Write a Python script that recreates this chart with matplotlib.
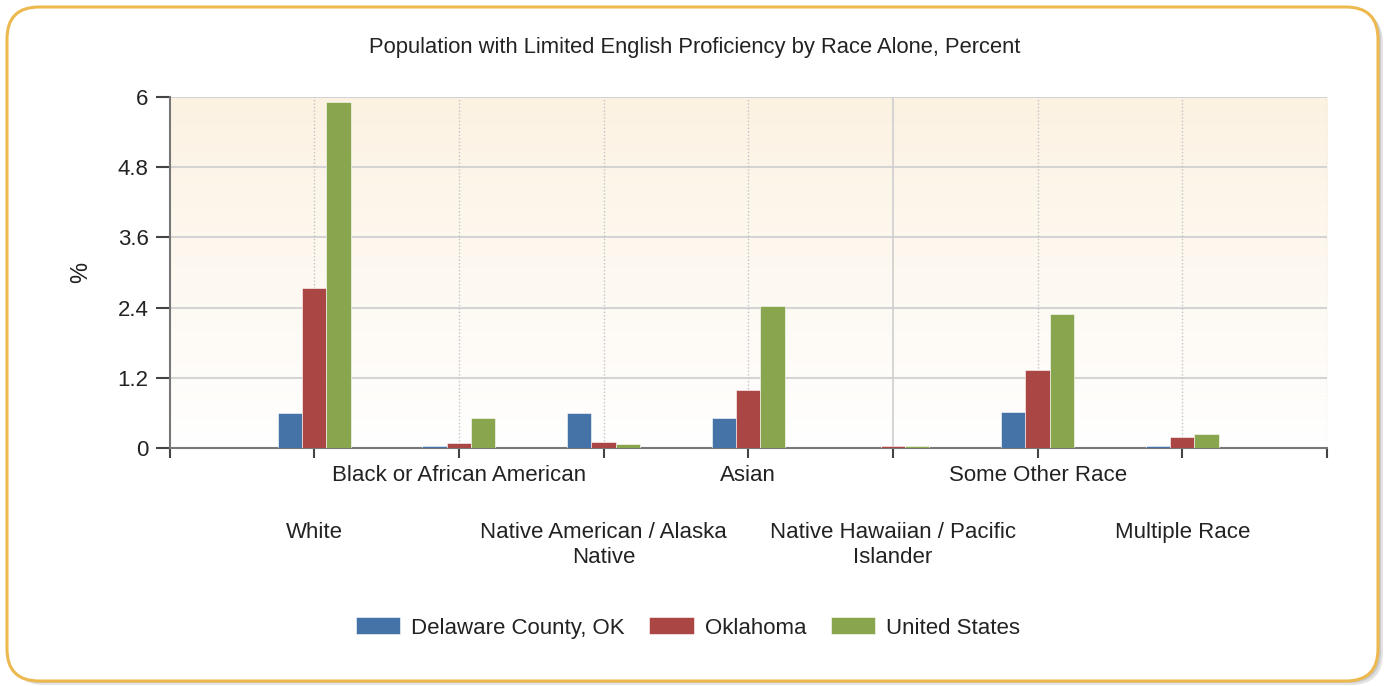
import numpy as np
import matplotlib
matplotlib.use("Agg")
import matplotlib.pyplot as plt
from matplotlib.patches import FancyBboxPatch
from matplotlib.transforms import IdentityTransform

plt.rcParams["font.family"] = ["Liberation Sans", "DejaVu Sans"]

# data
categories = [
    "White",
    "Black or African American",
    "Native American / Alaska\nNative",
    "Asian",
    "Native Hawaiian / Pacific\nIslander",
    "Some Other Race",
    "Multiple Race",
]
series_names = ["Delaware County, OK", "Oklahoma", "United States"]
delaware = [0.59, 0.03, 0.59, 0.52, 0.0, 0.62, 0.03]
oklahoma = [2.74, 0.08, 0.11, 0.99, 0.04, 1.33, 0.18]
united_states = [5.91, 0.52, 0.07, 2.43, 0.03, 2.29, 0.24]
y_ticks = [0, 1.2, 2.4, 3.6, 4.8, 6]
y_tick_labels = ["0", "1.2", "2.4", "3.6", "4.8", "6"]

colors = ["#4572A7", "#AA4643", "#89A54E"]
text_color = "#222222"

W, H = 1387, 686
fig = plt.figure(figsize=(W / 100, H / 100), dpi=100)
fig.patch.set_facecolor("white")

# rounded frame with a soft shadow
for off, col, a in [(4, "#b0b0b0", 0.35), (2, "#999999", 0.35)]:
    sh = FancyBboxPatch((8 + off, 5 - off), W - 16, H - 12,
                        boxstyle="round,pad=0,rounding_size=32",
                        transform=IdentityTransform(), facecolor=col,
                        edgecolor="none", alpha=a, zorder=0)
    fig.patches.append(sh)
frame = FancyBboxPatch((7, 5), W - 16, H - 12,
                       boxstyle="round,pad=0,rounding_size=32",
                       transform=IdentityTransform(), facecolor="white",
                       edgecolor="#EDB94F", linewidth=2.2, zorder=1)
fig.patches.append(frame)

ax = fig.add_axes([169.5 / W, 1 - 448 / H, (1327 - 169.5) / W, (448 - 97) / H])
ax.set_facecolor("none")
ax.set_zorder(2)

x = np.arange(1, len(categories) + 1)
width = 0.168
for i, (vals, name) in enumerate(zip([delaware, oklahoma, united_states], series_names)):
    ax.bar(x + (i - 1) * width, vals, width, color=colors[i], label=name,
           edgecolor="white", linewidth=0.4, zorder=3)

ax.set_xlim(0, 8)
ax.set_ylim(0, 6)

# background gradient
grad = np.linspace(1, 0, 256).reshape(-1, 1)
top = np.array([252, 242, 226]) / 255
bottom = np.array([255, 255, 255]) / 255
img = bottom + (top - bottom) * grad[..., None]
ax.imshow(img, extent=[0, 8, 0, 6], aspect="auto", zorder=0)

# grid
for yv in y_ticks[1:]:
    ax.axhline(yv, color="#d4d4d4", linewidth=1.5, zorder=1)
for xv in range(1, 9):
    if xv == 5:
        ax.axvline(xv, color="#cfcfcf", linewidth=1.2, zorder=1)
    else:
        ax.axvline(xv, color="#c4c4c4", linewidth=1.0, linestyle=(0, (1, 1.5)), zorder=1)

for s in ["top", "right"]:
    ax.spines[s].set_visible(False)
for s in ["left", "bottom"]:
    ax.spines[s].set_color("#777777")
    ax.spines[s].set_linewidth(1.5)

ax.set_yticks(y_ticks)
ax.set_yticklabels(y_tick_labels)
ax.tick_params(axis="y", length=10, width=1.5, color="#444444", pad=5,
               labelsize=16, labelcolor=text_color)

# alternate category labels on two rows
ax.set_xticks([0, 2, 4, 6, 8])
ax.set_xticklabels(["", categories[1], categories[3], categories[5], ""])
ax.set_xticks([1, 3, 5, 7], minor=True)
ax.set_xticklabels([categories[0], categories[2], categories[4], categories[6]], minor=True)
ax.tick_params(axis="x", which="major", length=7, width=1.5, color="#444444",
               pad=5, labelsize=16, labelcolor=text_color)
ax.tick_params(axis="x", which="minor", length=7, width=1.5, color="#444444",
               pad=46, labelsize=16, labelcolor=text_color)
for lab in ax.get_xticklabels(minor=True):
    lab.set_linespacing(1.25)

ax.set_ylabel("%", fontsize=17, color=text_color)
ax.yaxis.set_label_coords(-0.067, 0.5)

fig.text(695 / W, 1 - 47 / H,
         "Population with Limited English Proficiency by Race Alone, Percent",
         ha="center", va="center", fontsize=15.8, color=text_color, zorder=5)

fig.legend(loc="center", bbox_to_anchor=(0.496, 1 - 628 / H), ncol=3,
           frameon=False, fontsize=16, handlelength=2.0, handleheight=0.8,
           handletextpad=0.5, columnspacing=1.1, labelcolor=text_color)

fig.savefig("out.png", dpi=100)
